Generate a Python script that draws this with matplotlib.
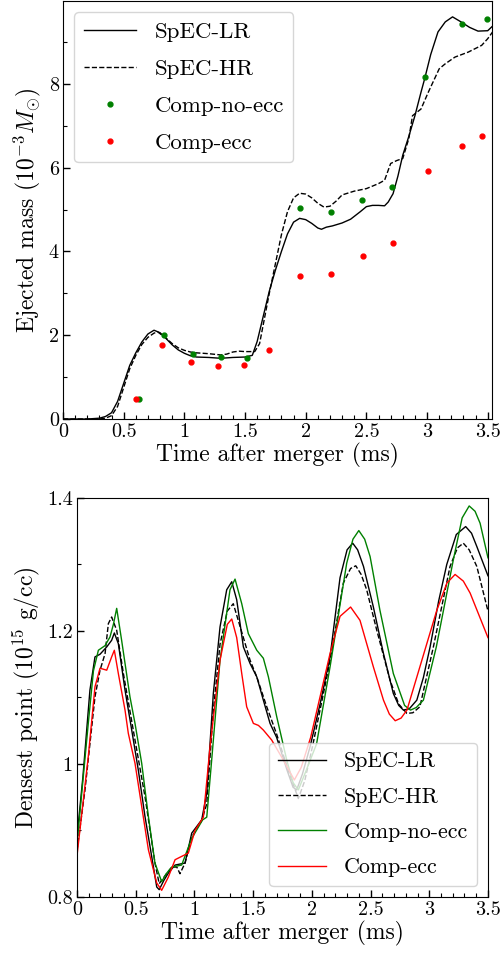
import matplotlib
matplotlib.use("Agg")
import matplotlib.pyplot as plt
from matplotlib.ticker import MultipleLocator, FormatStrFormatter

plt.rcParams['font.family'] = 'serif'
plt.rcParams['font.serif'] = ['cmr10']
plt.rcParams['mathtext.fontset'] = 'cm'
plt.rcParams['axes.formatter.use_mathtext'] = True

# ---- top panel: ejected mass ----
lr_t = [0.0, 0.1, 0.2, 0.3, 0.35, 0.4, 0.45, 0.5, 0.55, 0.6, 0.65, 0.7, 0.75, 0.8,
        0.85, 0.9, 0.95, 1.0, 1.05, 1.1, 1.2, 1.3, 1.4, 1.5, 1.56, 1.6, 1.65, 1.7,
        1.75, 1.8, 1.85, 1.9, 1.95, 2.0, 2.05, 2.1, 2.13, 2.17, 2.22, 2.3, 2.37,
        2.45, 2.5, 2.55, 2.6, 2.65, 2.68, 2.72, 2.76, 2.8, 2.85, 2.9, 2.95, 2.98,
        3.03, 3.09, 3.15, 3.21, 3.28, 3.35, 3.42, 3.5, 3.54]
lr_m = [0.0, 0.0, 0.0, 0.02, 0.06, 0.15, 0.42, 0.85, 1.28, 1.58, 1.84, 2.03, 2.12, 2.06,
        1.92, 1.77, 1.65, 1.57, 1.51, 1.48, 1.47, 1.45, 1.47, 1.48, 1.52, 1.85, 2.45, 3.05,
        3.55, 4.0, 4.42, 4.7, 4.79, 4.76, 4.67, 4.56, 4.53, 4.58, 4.61, 4.68, 4.77,
        4.95, 5.07, 5.1, 5.1, 5.09, 5.18, 5.38, 5.8, 6.3, 6.75, 7.24, 7.8, 8.12,
        8.7, 9.24, 9.48, 9.6, 9.48, 9.35, 9.26, 9.27, 9.38]

hr_t = [0.0, 0.3, 0.35, 0.4, 0.45, 0.5, 0.55, 0.6, 0.65, 0.7, 0.75, 0.78, 0.85, 0.9,
        0.95, 1.0, 1.05, 1.1, 1.2, 1.3, 1.35, 1.4, 1.45, 1.5, 1.58, 1.62, 1.66, 1.7,
        1.75, 1.8, 1.85, 1.9, 1.95, 2.0, 2.05, 2.1, 2.15, 2.2, 2.25, 2.3, 2.4, 2.5,
        2.6, 2.65, 2.7, 2.75, 2.8, 2.85, 2.88, 2.95, 3.01, 3.1, 3.15, 3.23, 3.34,
        3.45, 3.5, 3.54]
hr_m = [0.0, 0.0, 0.02, 0.08, 0.3, 0.75, 1.2, 1.52, 1.78, 1.95, 2.05, 2.08, 1.93, 1.8,
        1.7, 1.64, 1.6, 1.58, 1.56, 1.53, 1.55, 1.6, 1.62, 1.61, 1.61, 1.8, 2.4, 3.0,
        3.7, 4.4, 4.95, 5.28, 5.39, 5.37, 5.28, 5.15, 5.06, 5.08, 5.2, 5.35, 5.44, 5.5,
        5.62, 5.7, 6.1, 6.17, 6.22, 6.7, 7.24, 7.4, 7.8, 8.36, 8.48, 8.64, 8.76,
        8.92, 9.08, 9.24]

noecc_t = [0.63, 0.835, 1.07, 1.30, 1.52, 1.955, 2.21, 2.46, 2.71, 2.986, 3.29, 3.496]
noecc_m = [0.47, 2.01, 1.56, 1.49, 1.45, 5.03, 4.95, 5.22, 5.55, 8.16, 9.43, 9.54]

ecc_t = [0.60, 0.82, 1.056, 1.28, 1.49, 1.70, 1.95, 2.21, 2.47, 2.72, 3.005, 3.29, 3.45]
ecc_m = [0.47, 1.77, 1.35, 1.27, 1.29, 1.64, 3.41, 3.47, 3.89, 4.20, 5.92, 6.51, 6.75]

# ---- bottom panel: densest point ----
lr2_t = [0.0, 0.05, 0.11, 0.153, 0.196, 0.253, 0.295, 0.318, 0.352, 0.409, 0.466, 0.522,
         0.579, 0.636, 0.679, 0.70, 0.74, 0.778, 0.835, 0.92, 0.977, 1.062, 1.105, 1.161,
         1.218, 1.275, 1.318, 1.36, 1.417, 1.474, 1.531, 1.587, 1.644, 1.70, 1.79, 1.84,
         1.871, 1.92, 1.985, 2.07, 2.155, 2.24, 2.30, 2.348, 2.39, 2.44, 2.524, 2.61,
         2.694, 2.74, 2.78, 2.83, 2.894, 2.95, 3.007, 3.08, 3.149, 3.23, 3.31, 3.36,
         3.405, 3.5]
lr2_d = [0.89, 0.98, 1.111, 1.161, 1.165, 1.176, 1.186, 1.197, 1.181, 1.111, 1.051, 0.991,
         0.921, 0.861, 0.815, 0.811, 0.825, 0.836, 0.848, 0.851, 0.896, 0.916, 0.956, 1.106,
         1.206, 1.262, 1.274, 1.247, 1.176, 1.151, 1.131, 1.096, 1.061, 1.04, 0.99, 0.965,
         0.961, 0.985, 1.026, 1.09, 1.161, 1.28, 1.322, 1.332, 1.322, 1.297, 1.236, 1.166,
         1.106, 1.088, 1.081, 1.083, 1.096, 1.13, 1.176, 1.245, 1.3, 1.345, 1.357, 1.347,
         1.327, 1.283]

hr2_t = [0.0, 0.068, 0.153, 0.196, 0.239, 0.267, 0.295, 0.338, 0.395, 0.494, 0.579, 0.664,
         0.70, 0.75, 0.807, 0.85, 0.877, 0.92, 0.977, 1.062, 1.105, 1.161, 1.218, 1.28,
         1.331, 1.39, 1.474, 1.531, 1.616, 1.70, 1.80, 1.885, 1.94, 2.01, 2.15, 2.268,
         2.33, 2.374, 2.42, 2.467, 2.553, 2.666, 2.74, 2.81, 2.86, 2.92, 3.035, 3.177,
         3.24, 3.29, 3.34, 3.405, 3.5]
hr2_d = [0.87, 0.961, 1.101, 1.141, 1.166, 1.211, 1.221, 1.201, 1.136, 1.036, 0.951, 0.851,
         0.82, 0.832, 0.845, 0.845, 0.835, 0.851, 0.89, 0.915, 0.94, 1.08, 1.18, 1.23,
         1.241, 1.206, 1.156, 1.131, 1.086, 1.045, 0.99, 0.948, 0.975, 1.03, 1.15, 1.272,
         1.294, 1.298, 1.285, 1.262, 1.201, 1.126, 1.09, 1.076, 1.077, 1.086, 1.176, 1.297,
         1.325, 1.332, 1.322, 1.297, 1.23]

noecc2_t = [0.0, 0.096, 0.14, 0.182, 0.239, 0.281, 0.31, 0.338, 0.38, 0.451, 0.494, 0.551,
            0.608, 0.664, 0.721, 0.76, 0.807, 0.891, 0.977, 1.07, 1.105, 1.147, 1.218,
            1.303, 1.346, 1.403, 1.459, 1.531, 1.587, 1.63, 1.701, 1.786, 1.84, 1.885,
            1.94, 2.04, 2.155, 2.297, 2.35, 2.40, 2.45, 2.496, 2.58, 2.694, 2.79, 2.84,
            2.89, 2.95, 3.06, 3.205, 3.28, 3.34, 3.39, 3.433, 3.5]
noecc2_d = [0.88, 1.061, 1.14, 1.171, 1.178, 1.191, 1.21, 1.234, 1.186, 1.101, 1.061, 1.001,
            0.921, 0.851, 0.823, 0.835, 0.845, 0.848, 0.888, 0.916, 0.92, 1.006, 1.156,
            1.262, 1.278, 1.241, 1.196, 1.171, 1.159, 1.131, 1.071, 1.006, 0.972, 0.961,
            0.985, 1.03, 1.146, 1.302, 1.338, 1.351, 1.338, 1.312, 1.231, 1.136, 1.088, 1.081,
            1.085, 1.096, 1.176, 1.307, 1.37, 1.388, 1.38, 1.362, 1.31]

ecc2_t = [0.0, 0.096, 0.153, 0.196, 0.253, 0.295, 0.318, 0.352, 0.409, 0.437, 0.494, 0.551,
          0.608, 0.679, 0.721, 0.778, 0.835, 0.891, 0.948, 1.005, 1.076, 1.133, 1.218, 1.28,
          1.318, 1.36, 1.403, 1.445, 1.502, 1.545, 1.587, 1.658, 1.757, 1.851, 1.91, 1.99,
          2.155, 2.24, 2.33, 2.41, 2.524, 2.61, 2.66, 2.71, 2.76, 2.81, 2.92, 3.064, 3.15,
          3.22, 3.29, 3.348, 3.5]
ecc2_d = [0.862, 1.011, 1.116, 1.144, 1.141, 1.161, 1.171, 1.136, 1.081, 1.046, 1.001, 0.936,
          0.871, 0.821, 0.81, 0.83, 0.856, 0.861, 0.866, 0.9, 0.92, 1.026, 1.156, 1.21,
          1.218, 1.19, 1.136, 1.086, 1.061, 1.058, 1.051, 1.036, 1.006, 0.976, 0.995, 1.04,
          1.166, 1.222, 1.236, 1.216, 1.146, 1.096, 1.075, 1.065, 1.069, 1.081, 1.146, 1.231,
          1.272, 1.285, 1.275, 1.257, 1.19]

fig = plt.figure(figsize=(5.01, 9.58), dpi=100)
ax1 = fig.add_axes([0.1257, 0.5626, 0.8563, 0.4364])
ax2 = fig.add_axes([0.1537, 0.0637, 0.8203, 0.4165])

ax1.plot(lr_t, lr_m, color='k', lw=1.0, label='SpEC-LR')
ax1.plot(hr_t, hr_m, color='k', lw=1.0, ls='--', label='SpEC-HR')
ax1.plot(noecc_t, noecc_m, 'o', color='green', ms=3.5, label='Comp-no-ecc')
ax1.plot(ecc_t, ecc_m, 'o', color='red', ms=3.5, label='Comp-ecc')
ax1.set_xlim(0, 3.535)
ax1.set_ylim(0, 9.98)
ax1.set_xlabel('Time after merger (ms)', fontsize=17, labelpad=1)
ax1.set_ylabel(r'Ejected mass ($10^{-3}M_{\odot}$)', fontsize=17, labelpad=4)
ax1.yaxis.set_major_locator(MultipleLocator(2))
ax1.yaxis.set_minor_locator(MultipleLocator(1))
ax1.legend(loc='upper left', fontsize=16.5, labelspacing=0.75, handlelength=2.3,
           handletextpad=0.8)

ax2.plot(lr2_t, lr2_d, color='k', lw=1.0, label='SpEC-LR')
ax2.plot(hr2_t, hr2_d, color='k', lw=1.0, ls='--', label='SpEC-HR')
ax2.plot(noecc2_t, noecc2_d, color='green', lw=1.0, label='Comp-no-ecc')
ax2.plot(ecc2_t, ecc2_d, color='red', lw=1.0, label='Comp-ecc')
ax2.set_xlim(0, 3.5)
ax2.set_ylim(0.8, 1.4)
ax2.set_xlabel('Time after merger (ms)', fontsize=17, labelpad=1)
ax2.set_ylabel(r'Densest point ($10^{15}$ g/cc)', fontsize=17, labelpad=4)
ax2.yaxis.set_major_locator(MultipleLocator(0.2))
ax2.yaxis.set_minor_locator(MultipleLocator(0.1))
ax2.legend(loc='lower right', fontsize=15.8, labelspacing=0.72, handlelength=2.2,
           handletextpad=0.8)

for ax in (ax1, ax2):
    ax.xaxis.set_major_locator(MultipleLocator(0.5))
    ax.xaxis.set_minor_locator(MultipleLocator(0.1))
    ax.xaxis.set_major_formatter(FormatStrFormatter('%g'))
    ax.yaxis.set_major_formatter(FormatStrFormatter('%g'))
    ax.tick_params(which='both', direction='in', labelsize=14.5, pad=3)
    ax.tick_params(which='major', length=5, width=1)
    ax.tick_params(which='minor', length=3, width=0.8)

fig.savefig('out.png', dpi=100)
